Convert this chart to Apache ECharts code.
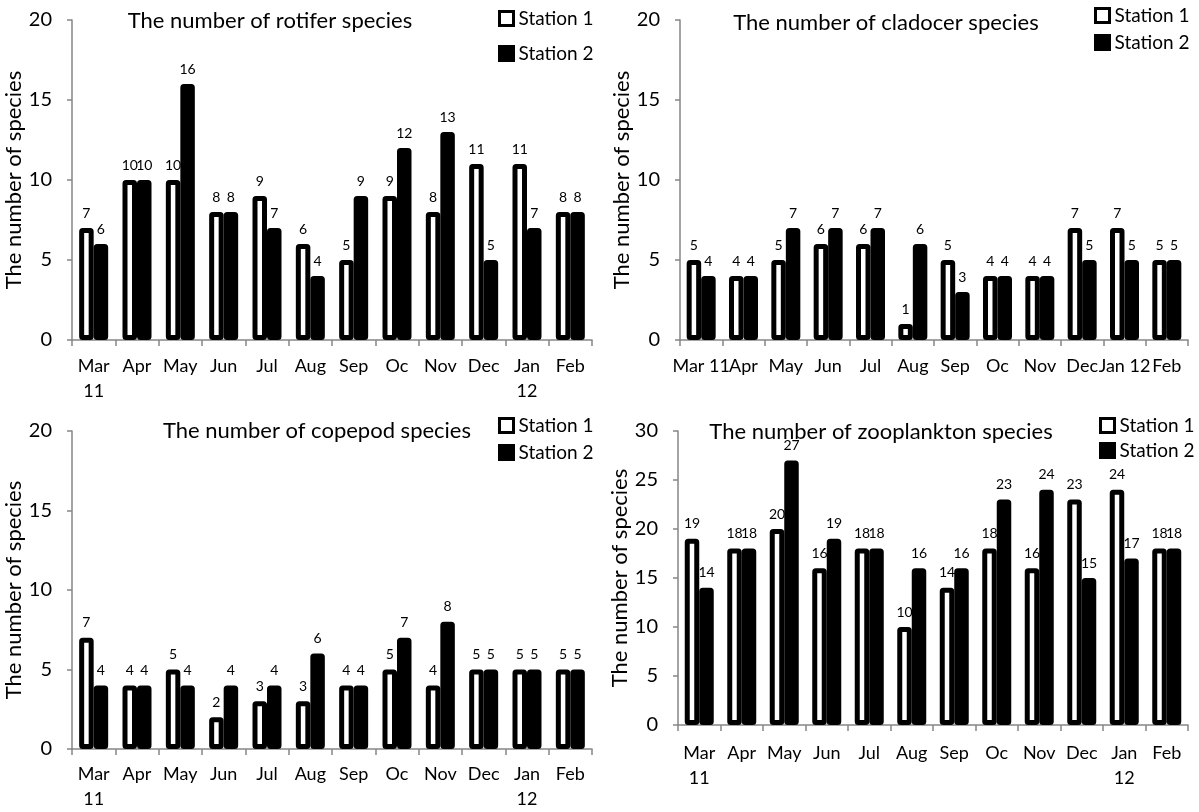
<!DOCTYPE html>
<html>
<head>
<meta charset="utf-8">
<script src="https://cdn.jsdelivr.net/npm/echarts@6/dist/echarts.min.js"></script>
<style>
html,body{margin:0;padding:0;background:#fff;}
#c{width:1199px;height:812px;}
</style>
</head>
<body>
<div id="c"></div>
<script>
// ---- data ----
var monthsWrapped = ['Mar\n11','Apr','May','Jun','Jul','Aug','Sep','Oc','Nov','Dec','Jan\n12','Feb'];
var monthsFlat = ['Mar 11','Apr','May','Jun','Jul','Aug','Sep','Oc','Nov','Dec','Jan 12','Feb'];
var seriesNames = ['Station 1','Station 2'];

var titles = ['The number of rotifer species','The number of cladocer species','The number of copepod species','The number of zooplankton species'];

var rotiferSt1 = [7,10,10,8,9,6,5,9,8,11,11,8];
var rotiferSt2 = [6,10,16,8,7,4,9,12,13,5,7,8];

var cladocerSt1 = [5,4,5,6,6,1,5,4,4,7,7,5];
var cladocerSt2 = [4,4,7,7,7,6,3,4,4,5,5,5];

var copepodSt1 = [7,4,5,2,3,3,4,5,4,5,5,5];
var copepodSt2 = [4,4,4,4,4,6,4,7,8,5,5,5];

var zooSt1 = [19,18,20,16,18,10,14,18,16,23,24,18];
var zooSt2 = [14,18,27,19,18,16,16,23,24,15,17,18];

var yMax = [20,20,20,30];
var yInterval = 5;

// ---- layout ----
var FONT = 'Lato, "Open Sans", sans-serif';
var panels = [
  {grid:{left:72,top:20,width:520,height:320}, cats:monthsWrapped, s1:rotiferSt1, s2:rotiferSt2,
   title:{x:265,y:5}, legend:{x:493,y:4,gap:16}, labelMargin:14},
  {grid:{left:680,top:20,width:508,height:320}, cats:monthsFlat, s1:cladocerSt1, s2:cladocerSt2,
   title:{x:881,y:7}, legend:{x:1089,y:1,gap:8}, labelMargin:14},
  {grid:{left:72,top:431,width:520,height:319}, cats:monthsWrapped, s1:copepodSt1, s2:copepodSt2,
   title:{x:312,y:415}, legend:{x:493,y:411,gap:8}, labelMargin:13},
  {grid:{left:678,top:431,width:510,height:294}, cats:monthsWrapped, s1:zooSt1, s2:zooSt2,
   title:{x:876,y:416}, legend:{x:1094,y:411,gap:6}, labelMargin:16}
];

var axisGray = '#868686';
var fills = ['#fff','#000'];
var option = {
  backgroundColor:'#fff',
  animation:false,
  textStyle:{fontFamily:FONT},
  title:[], legend:[], grid:[], xAxis:[], yAxis:[], series:[]
};

panels.forEach(function(p, i){
  option.grid.push(p.grid);
  option.title.push({
    text:titles[i], left:p.title.x, top:p.title.y, textAlign:'center',
    textStyle:{fontFamily:FONT, fontSize:22, fontWeight:'normal', color:'#000'}
  });
  option.legend.push({
    data:seriesNames.map(function(n, k){
      return {name:n, itemStyle:{color:fills[k], borderColor:'#000', borderWidth:3}};
    }),
    orient:'vertical', left:p.legend.x, top:p.legend.y,
    itemGap:p.legend.gap, itemWidth:14, itemHeight:14, icon:'rect',
    textStyle:{fontFamily:FONT, fontSize:19, color:'#000'},
    selectedMode:false
  });
  option.xAxis.push({
    type:'category', gridIndex:i, data:p.cats,
    axisLine:{show:true, lineStyle:{color:axisGray, width:1.5}},
    axisTick:{show:true, length:6, lineStyle:{color:axisGray, width:1.5}},
    axisLabel:{interval:0, color:'#000', fontSize:18, fontFamily:FONT, margin:p.labelMargin, lineHeight:25},
    splitLine:{show:false}
  });
  option.yAxis.push({
    type:'value', gridIndex:i, min:0, max:yMax[i], interval:yInterval,
    name:'The number of species', nameLocation:'middle', nameGap:41,
    nameTextStyle:{fontFamily:FONT, fontSize:22, color:'#000'},
    axisLine:{show:true, lineStyle:{color:axisGray, width:1.5}},
    axisTick:{show:true, length:5, lineStyle:{color:axisGray, width:1.5}},
    axisLabel:{color:'#000', fontSize:20, fontFamily:FONT, margin:20},
    splitLine:{show:false}
  });
  [p.s1, p.s2].forEach(function(vals, k){
    option.series.push({
      type:'bar', name:seriesNames[k], xAxisIndex:i, yAxisIndex:i, data:vals,
      barWidth:14.5, barGap:'0%',
      itemStyle:{color:fills[k], borderColor:'#000', borderWidth:5, borderRadius:1},
      label:{show:true, position:'top', distance:8, color:'#000', fontSize:14, fontFamily:FONT},
      z:1
    });
  });
});

var chart = echarts.init(document.getElementById('c'), null, {renderer:'canvas'});
chart.setOption(option);
</script>
</body>
</html>
